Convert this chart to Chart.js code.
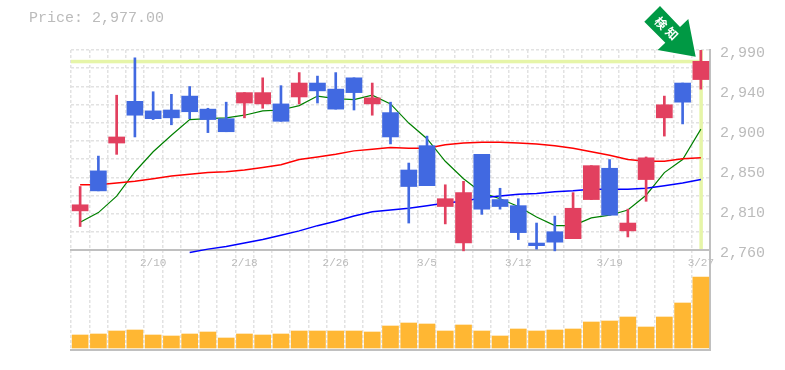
<!DOCTYPE html>
<html><head><meta charset="utf-8">
<style>html,body{margin:0;padding:0;background:#fff}canvas{display:block}</style>
<script src="https://cdn.jsdelivr.net/npm/chart.js@4"></script>
</head><body><canvas id="c" width="785" height="370"></canvas>
<script>
const categories=['','','','','2/10','','','','','2/18','','','','','2/26','','','','','3/5','','','','','3/12','','','','','3/19','','','','','3/27'];
const open =[2805,2851,2883,2931,2920,2921,2937,2922,2911,2929,2928,2928,2936,2952,2945,2958,2928,2918,2852,2880,2810,2768,2870,2818,2811,2768,2781,2773,2818,2854,2782,2841,2912,2952,2956];
const close=[2812,2828,2890,2915,2911,2912,2919,2910,2896,2941,2941,2908,2952,2943,2922,2941,2935,2890,2833,2834,2819,2826,2807,2810,2780,2765,2769,2808,2857,2800,2791,2866,2927,2930,2977];
const high =[2833,2868,2938,2981,2942,2939,2948,2923,2930,2941,2958,2949,2964,2960,2964,2958,2952,2930,2860,2891,2835,2839,2870,2831,2819,2791,2799,2826,2857,2864,2807,2867,2937,2952,2990];
const low  =[2787,2828,2870,2890,2910,2904,2911,2895,2896,2912,2923,2908,2928,2929,2922,2921,2915,2882,2791,2834,2790,2759,2801,2807,2772,2761,2759,2773,2818,2800,2775,2816,2891,2905,2945];
const maShort=[2792,2803,2822,2850,2873,2892,2910,2911,2912,2915,2920,2921,2926,2937,2934,2933,2938,2928,2906,2888,2862,2842,2826,2819,2810,2798,2788,2788,2797,2800,2806,2823,2849,2864,2899];
const maMid=[2835,2835,2837,2839,2842,2845,2847,2849,2850,2852,2855,2858,2864,2867,2870,2874,2876,2878,2877,2877,2881,2883,2884,2884,2883,2882,2880,2877,2873,2869,2864,2862,2862,2865,2866];
const maLong=[null,null,null,null,null,null,2757,2761,2764,2768,2772,2777,2782,2788,2793,2799,2804,2806,2808,2811,2814,2816,2820,2822,2824,2825,2827,2828,2830,2830,2830,2831,2834,2837,2841];
const volume=[13,14,17,18,13,12,14,16,10,14,13,14,17,17,17,17,16,22,25,24,17,23,17,12,19,17,18,19,26,27,31,21,31,45,71];
const priceTicks=[2760,2806,2852,2898,2944,2990];
const priceTickLabels=['2,760','2,810','2,850','2,900','2,940','2,990'];
const gridRows=[0,1,2,3,4,5,6,7,8,9,10,11];
const lastPrice=2977;
const lastIndex=34;
const priceText='Price: 2,977.00';
const badgeText=['検','知'];

const UP='#e2405f',DOWN='#4169e1',GRID='#e2e2e2',AXIS='#c0c0c0',TXT='#bbbbbb',MARK='#e6f5a8';
const MONO='"Liberation Mono", monospace';
const candleColors=open.map((o,i)=>close[i]>=o?UP:DOWN);
const bodies=open.map((o,i)=>[o,close[i]]);
const wicks=low.map((l,i)=>[l,high[i]]);

const overlay={id:'overlay',
 beforeDatasetsDraw(ch){
  const {ctx,scales:{x,y},chartArea:a}=ch;
  const py=y.getPixelForValue(lastPrice),px=x.getPixelForValue(lastIndex);
  ctx.save();ctx.fillStyle=MARK;
  ctx.fillRect(a.left,py-1.5,px-a.left+2,3.5);
  ctx.fillRect(px-1.5,y.getPixelForValue(2990),3.5,y.getPixelForValue(2760)-y.getPixelForValue(2990)-1);
  ctx.restore();
 },
 afterDraw(ch){
  const {ctx}=ch;
  ctx.save();
  ctx.font='15px '+MONO;ctx.fillStyle=TXT;ctx.textBaseline='middle';ctx.textAlign='left';
  ctx.fillText(priceText,29,18);
  ctx.fillStyle='#009944';
  ctx.beginPath();
  [[660,6],[680,27],[688.3,19],[695.7,56.7],[657.7,50],[665.3,42.7],[644.3,21.7]].forEach((p,i)=>i?ctx.lineTo(p[0],p[1]):ctx.moveTo(p[0],p[1]));
  ctx.closePath();ctx.fill();
  ctx.fillStyle='#fff';ctx.font='bold 12px "Noto Sans CJK JP"';ctx.textAlign='center';
  [[661,23],[672,33.5]].forEach((p,i)=>{ctx.save();ctx.translate(p[0],p[1]);ctx.rotate(Math.PI/4);ctx.fillText(badgeText[i],0,0);ctx.restore();});
  ctx.restore();
 }};

const line=(data,color,w)=>({type:'line',data,borderColor:color,borderWidth:w,pointRadius:0,tension:0,fill:false,yAxisID:'y',order:3});
new Chart(document.getElementById('c'),{
 type:'bar',
 data:{labels:categories,datasets:[
  {data:volume,yAxisID:'v',backgroundColor:'#ffb733',barThickness:16,grouped:false,order:5},
  line(maLong,'#0000ff',1.5),
  line(maMid,'#ff0000',1.5),
  line(maShort,'#008000',1.2),
  {data:wicks,yAxisID:'y',backgroundColor:candleColors,barThickness:2,grouped:false,borderSkipped:false,order:2},
  {data:bodies,yAxisID:'y',backgroundColor:candleColors,barThickness:16,grouped:false,borderSkipped:false,order:1}
 ]},
 options:{
  responsive:false,animation:false,events:[],
  layout:{padding:{left:71,top:50,right:0,bottom:20}},
  plugins:{legend:{display:false},tooltip:{enabled:false},title:{display:false}},
  scales:{
   x:{type:'category',offset:true,position:{y:2760},
      grid:{display:true,offset:true,color:GRID,lineWidth:1.5,drawTicks:false},
      border:{display:true,color:AXIS,width:2,dash:[3,2]},
      ticks:{autoSkip:false,maxRotation:0,minRotation:0,padding:6,color:TXT,font:{family:MONO,size:11}}},
   xb:{type:'category',axis:'x',position:'bottom',offset:true,
      grid:{display:false,drawTicks:false},border:{display:true,color:AXIS,width:2},
      ticks:{display:false},afterFit(s){s.height=0;}},
   y:{type:'linear',position:'right',min:2645,max:2990,
      afterBuildTicks(s){s.ticks=priceTicks.map(value=>({value}));},
      afterFit(s){s.width=75;},
      grid:{display:false,drawTicks:false},border:{display:true,color:AXIS,width:2},
      ticks:{padding:10,labelOffset:3,color:TXT,font:{family:MONO,size:15},
        callback(v){return priceTickLabels[priceTicks.indexOf(v)];}}},
   g:{type:'linear',position:'right',min:-5.5,max:11,
      afterBuildTicks(s){s.ticks=gridRows.map(value=>({value}));},
      afterFit(s){s.width=0;},
      grid:{display:true,color:GRID,lineWidth:1.5,drawTicks:false},border:{display:false,dash:[3,2]},
      ticks:{display:false}},
   v:{type:'linear',display:false,min:-2,max:298}
  }
 },
 plugins:[overlay]
});
</script></body></html>
